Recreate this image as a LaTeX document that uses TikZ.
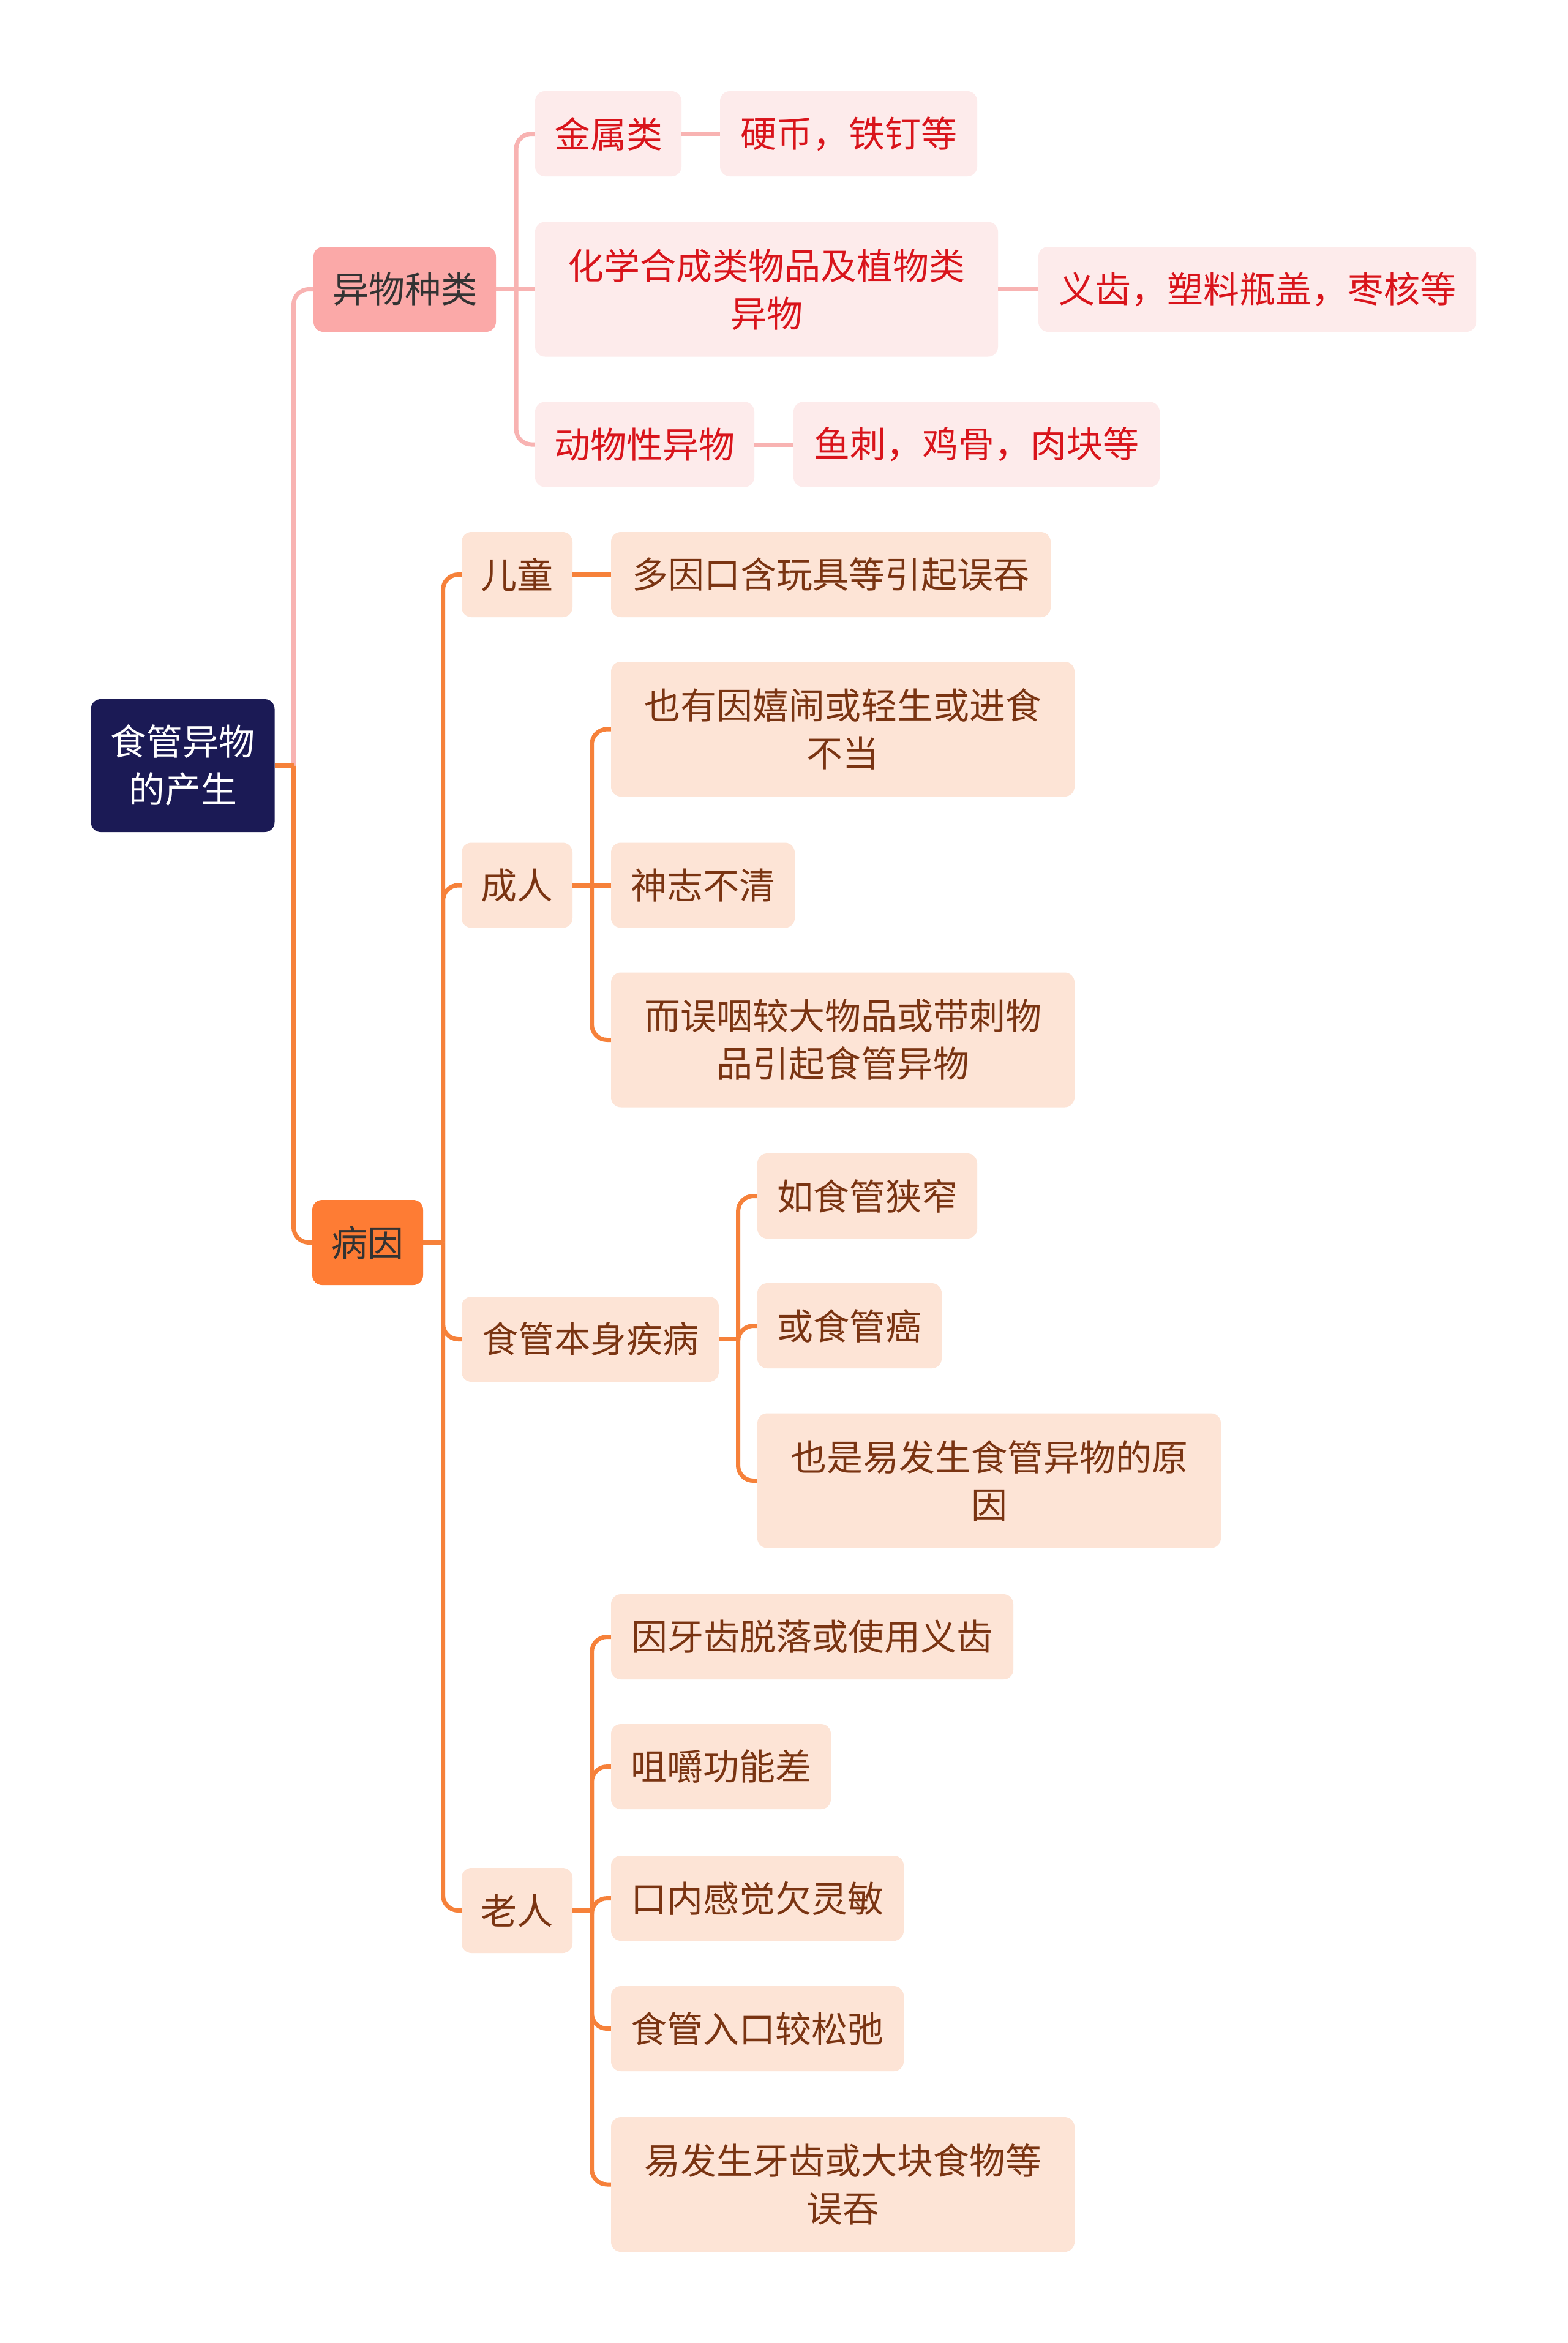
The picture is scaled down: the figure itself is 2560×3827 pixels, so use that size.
\documentclass[tikz,border=0pt]{standalone}
\usepackage{fontspec}
\setmainfont{Noto Sans CJK SC}
\definecolor{cRoot}{HTML}{1B1A55}
\definecolor{cCatA}{HTML}{FBA9A8}
\definecolor{cCatB}{HTML}{FE7C34}
\definecolor{cLeafA}{HTML}{FDEBEB}
\definecolor{cLeafB}{HTML}{FDE4D6}
\definecolor{cTxtA}{HTML}{D9141B}
\definecolor{cTxtB}{HTML}{7A3412}
\definecolor{cTxtD}{HTML}{333333}
\definecolor{cLineA}{HTML}{F8B3B2}
\definecolor{cLineB}{HTML}{F6813A}
\newcommand\bodyfs{\fontsize{59}{78}\selectfont}
\tikzset{
  box/.style={rounded corners=16pt, inner sep=0pt, align=center, font=\bodyfs},
  rootbox/.style={box, fill=cRoot, text=white},
  catA/.style={box, fill=cCatA, text=cTxtD},
  catB/.style={box, fill=cCatB, text=cTxtD},
  leafA/.style={box, fill=cLeafA, text=cTxtA},
  leafB/.style={box, fill=cLeafB, text=cTxtB},
  lineA/.style={draw=cLineA, line width=7pt, rounded corners=25pt},
  lineB/.style={draw=cLineB, line width=7pt, rounded corners=25pt},
}
\begin{document}
\begin{tikzpicture}[x=1pt,y=-1pt]
\fill[white] (0,0) rectangle (2560,3827);
\useasboundingbox (0,0) rectangle (2560,3827);

% root and categories
\node[rootbox, minimum width=300pt, minimum height=217pt] (root) at (298.5,1250.5) {食管异物\\的产生};
\node[catA, minimum width=298pt, minimum height=139pt] (yiwu) at (661,472.5) {异物种类};
\node[catB, minimum width=181pt, minimum height=139pt] (bingyin) at (600.5,2029.5) {病因};

% 异物种类 branch
\node[leafA, minimum width=239pt, minimum height=139pt] (jinshu) at (993.5,218.5) {金属类};
\node[leafA, minimum width=420pt, minimum height=139pt] (yingbi) at (1386,218.5) {硬币，铁钉等};
\node[leafA, minimum width=756pt, minimum height=220pt] (huaxue) at (1252,472.5) {化学合成类物品及植物类\\异物};
\node[leafA, minimum width=715pt, minimum height=139pt] (yichi) at (2053.5,472.5) {义齿，塑料瓶盖，枣核等};
\node[leafA, minimum width=358pt, minimum height=139pt] (dongwu) at (1053,726) {动物性异物};
\node[leafA, minimum width=598pt, minimum height=139pt] (yuci) at (1595,726) {鱼刺，鸡骨，肉块等};

% 病因 branch
\node[leafB, minimum width=181pt, minimum height=139pt] (ertong) at (844.5,938.5) {儿童};
\node[leafB, minimum width=718pt, minimum height=139pt] (duoyin) at (1357,938.5) {多因口含玩具等引起误吞};

\node[leafB, minimum width=181pt, minimum height=139pt] (chengren) at (844.5,1446) {成人};
\node[leafB, minimum width=757pt, minimum height=220pt] (yeyou) at (1376.5,1191) {也有因嬉闹或轻生或进食\\不当};
\node[leafB, minimum width=300pt, minimum height=139pt] (shenzhi) at (1148,1446) {神志不清};
\node[leafB, minimum width=757pt, minimum height=220pt] (erwu) at (1376.5,1698.5) {而误咽较大物品或带刺物\\品引起食管异物};

\node[leafB, minimum width=420pt, minimum height=139pt] (shiguan) at (964,2187.5) {食管本身疾病};
\node[leafB, minimum width=359pt, minimum height=139pt] (xiazhai) at (1416.5,1953.5) {如食管狭窄};
\node[leafB, minimum width=301pt, minimum height=139pt] (ai) at (1387.5,2165.5) {或食管癌};
\node[leafB, minimum width=757pt, minimum height=220pt] (yeshi) at (1615.5,2418.5) {也是易发生食管异物的原\\因};

\node[leafB, minimum width=181pt, minimum height=139pt] (laoren) at (844.5,3120.5) {老人};
\node[leafB, minimum width=657pt, minimum height=139pt] (yachi) at (1326.5,2673.5) {因牙齿脱落或使用义齿};
\node[leafB, minimum width=359pt, minimum height=139pt] (jujue) at (1177.5,2885.5) {咀嚼功能差};
\node[leafB, minimum width=478pt, minimum height=139pt] (kounei) at (1237,3100.5) {口内感觉欠灵敏};
\node[leafB, minimum width=478pt, minimum height=139pt] (rukou) at (1237,3313.5) {食管入口较松弛};
\node[leafB, minimum width=757pt, minimum height=220pt] (yifa) at (1376.5,3568) {易发生牙齿或大块食物等\\误吞};

% connectors: root
\coordinate (bR) at (479.5,1250.5);
\draw[lineA] (bR) |- (yiwu.west);
\draw[lineB] (bR) |- (bingyin.west);
\draw[lineB] (root.east) -- (bR);

% 异物种类
\coordinate (bY) at (843,472.5);
\draw[lineA] (yiwu.east) -- (bY);
\draw[lineA] (bY) |- (jinshu.west);
\draw[lineA] (bY) -- (huaxue.west);
\draw[lineA] (bY) |- (dongwu.west);
\draw[lineA] (jinshu.east) -- (yingbi.west);
\draw[lineA] (huaxue.east) -- (yichi.west);
\draw[lineA] (dongwu.east) -- (yuci.west);

% 病因
\coordinate (bB) at (723.5,2029.5);
\draw[lineB] (bingyin.east) -- (bB);
\draw[lineB] (bB) |- (ertong.west);
\draw[lineB] (bB) |- (chengren.west);
\draw[lineB] (bB) |- (shiguan.west);
\draw[lineB] (bB) |- (laoren.west);
\draw[lineB] (ertong.east) -- (duoyin.west);

% 成人
\coordinate (bC) at (966.5,1446);
\draw[lineB] (chengren.east) -- (bC);
\draw[lineB] (bC) |- (yeyou.west);
\draw[lineB] (bC) -- (shenzhi.west);
\draw[lineB] (bC) |- (erwu.west);

% 食管本身疾病
\coordinate (bS) at (1205.5,2187.5);
\draw[lineB] (shiguan.east) -- (bS);
\draw[lineB] (bS) |- (xiazhai.west);
\draw[lineB] (bS) |- (ai.west);
\draw[lineB] (bS) |- (yeshi.west);

% 老人
\coordinate (bL) at (966.5,3120.5);
\draw[lineB] (laoren.east) -- (bL);
\draw[lineB] (bL) |- (yachi.west);
\draw[lineB] (bL) |- (jujue.west);
\draw[lineB] (bL) |- (kounei.west);
\draw[lineB] (bL) |- (rukou.west);
\draw[lineB] (bL) |- (yifa.west);
\end{tikzpicture}
\end{document}
